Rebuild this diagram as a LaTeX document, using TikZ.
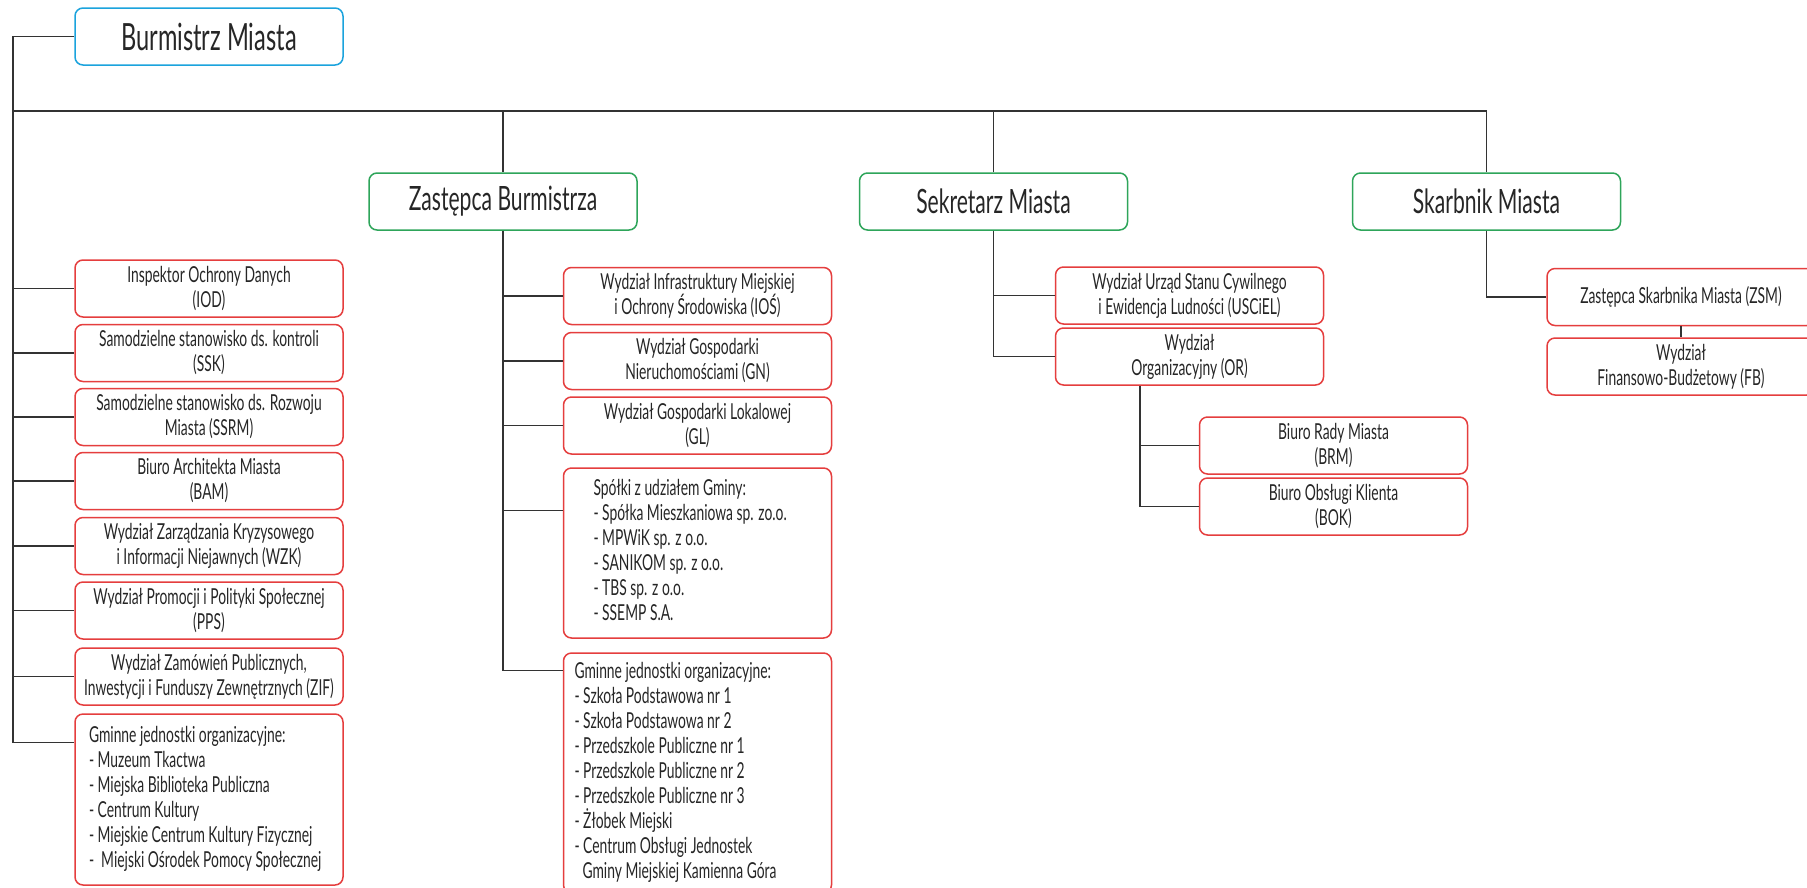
\documentclass[tikz,border=0pt]{standalone}
\usepackage{fontspec}
\setmainfont{Lato}[FakeStretch=0.63]
\usetikzlibrary{calc}
\definecolor{cred}{HTML}{E53E3E}
\definecolor{cgreen}{HTML}{2EA55A}
\definecolor{cblue}{HTML}{1BA3DD}
\definecolor{ctext}{HTML}{262626}
\definecolor{cline}{HTML}{333333}
\newcommand{\lst}[2]{\makebox[268pt][l]{\hspace*{#1}\begin{tabular}{@{}l@{}}#2\end{tabular}}}
\begin{document}
\begin{tikzpicture}[x=1pt,y=-1pt,
  box/.style={draw, rounded corners=8pt, line width=1.5pt, text=ctext, inner sep=0pt, font=\fontsize{22}{25}\selectfont},
  redbox/.style={box, draw=cred, minimum width=268pt, minimum height=57pt, align=center},
  listbox/.style={box, draw=cred, minimum width=268pt},
  greenbox/.style={box, draw=cgreen, minimum width=268pt, minimum height=57pt, font=\fontsize{33.5}{36}\selectfont},
  topbox/.style={box, draw=cblue, minimum width=268pt, minimum height=57pt, font=\fontsize{37.5}{40}\selectfont},
  conn/.style={draw=cline, line width=1.5pt}]
\useasboundingbox[fill=white] (0,0) rectangle (1807,887);

% top level
\node[topbox] (bm) at (209,36.5) {Burmistrz Miasta};
\node[greenbox] (zb) at (503,201.5) {Zastępca Burmistrza};
\node[greenbox] (sm) at (993.5,201.5) {Sekretarz Miasta};
\node[greenbox] (skm) at (1486.5,201.5) {Skarbnik Miasta};

% left column
\node[redbox] (iod) at (209,288.5) {Inspektor Ochrony Danych\\(IOD)};
\node[redbox] (ssk) at (209,353) {Samodzielne stanowisko ds. kontroli\\(SSK)};
\node[redbox] (ssrm) at (209,417) {Samodzielne stanowisko ds. Rozwoju\\Miasta (SSRM)};
\node[redbox] (bam) at (209,481) {Biuro Architekta Miasta\\(BAM)};
\node[redbox] (wzk) at (209,546) {Wydział Zarządzania Kryzysowego\\i Informacji Niejawnych (WZK)};
\node[redbox] (pps) at (209,610.5) {Wydział Promocji i Polityki Społecznej\\(PPS)};
\node[redbox] (zif) at (209,676.5) {Wydział Zamówień Publicznych,\\Inwestycji i Funduszy Zewnętrznych (ZIF)};
\node[listbox, minimum height=171pt] (gj1) at (209,799.5)
  {\lst{14pt}{Gminne jednostki organizacyjne:\\- Muzeum Tkactwa\\- Miejska Biblioteka Publiczna\\- Centrum Kultury\\- Miejskie Centrum Kultury Fizycznej\\-\ \ Miejski Ośrodek Pomocy Społecznej}};

% Zastepca column
\node[redbox] (ios) at (697.5,296) {Wydział Infrastruktury Miejskiej\\i Ochrony Środowiska (IOŚ)};
\node[redbox] (gn) at (697.5,361) {Wydział Gospodarki\\Nieruchomościami (GN)};
\node[redbox] (gl) at (697.5,425.5) {Wydział Gospodarki Lokalowej\\(GL)};
\node[listbox, minimum height=170pt] (sp) at (697.5,553)
  {\lst{30pt}{Spółki z udziałem Gminy:\\- Spółka Mieszkaniowa sp. zo.o.\\- MPWiK sp. z o.o.\\- SANIKOM sp. z o.o.\\- TBS sp. z o.o.\\- SSEMP S.A.}};
\node[listbox, minimum height=240pt] (gj2) at (697.5,773)
  {\lst{11pt}{Gminne jednostki organizacyjne:\\- Szkoła Podstawowa nr 1\\- Szkoła Podstawowa nr 2\\- Przedszkole Publiczne nr 1\\- Przedszkole Publiczne nr 2\\- Przedszkole Publiczne nr 3\\- \smash{Ż}łobek Miejski\\- Centrum Obsługi Jednostek\\\hspace*{8pt}Gminy Miejskiej Kamienna Góra}};

% Sekretarz column
\node[redbox] (usc) at (1189.5,295.5) {Wydział Urząd Stanu Cywilnego\\i Ewidencja Ludności (USCiEL)};
\node[redbox] (or) at (1189.5,356.5) {Wydział\\Organizacyjny (OR)};
\node[redbox] (brm) at (1333.5,445.5) {Biuro Rady Miasta\\(BRM)};
\node[redbox] (bok) at (1333.5,506.5) {Biuro Obsługi Klienta\\(BOK)};

% Skarbnik column
\node[redbox] (zsm) at (1681,297) {Zastępca Skarbnika Miasta (ZSM)};
\node[redbox] (fb) at (1681,366.5) {Wydział\\Finansowo-Budżetowy (FB)};

% connectors
\coordinate (bus) at (13,111);
\coordinate (g1c) at ($(gj1.north west)+(0,29)$);
\draw[conn] (bm.west) -| (bus) |- (g1c);
\draw[conn] (bus) -- (bus -| skm.north) -- (skm.north);
\draw[conn] (bus -| zb.north) -- (zb.north);
\draw[conn] (bus -| sm.north) -- (sm.north);
\foreach \n in {iod,ssk,ssrm,bam,wzk,pps,zif} \draw[conn] (bus |- \n.west) -- (\n.west);

\coordinate (g2c) at ($(gj2.north west)+(0,18)$);
\coordinate (spc) at ($(sp.north west)+(0,43)$);
\draw[conn] (zb.south) |- (g2c);
\foreach \n in {ios,gn,gl} \draw[conn] (zb.south |- \n.west) -- (\n.west);
\draw[conn] (zb.south |- spc) -- (spc);

\draw[conn] (sm.south) |- (or.west);
\draw[conn] (sm.south |- usc.west) -- (usc.west);
\coordinate (orb) at ($(or.south west)+(85,0)$);
\draw[conn] (orb) |- (bok.west);
\draw[conn] (orb |- brm.west) -- (brm.west);

\draw[conn] (skm.south) |- (zsm.west);
\draw[conn] (zsm.south) -- (fb.north);
\end{tikzpicture}
\end{document}
